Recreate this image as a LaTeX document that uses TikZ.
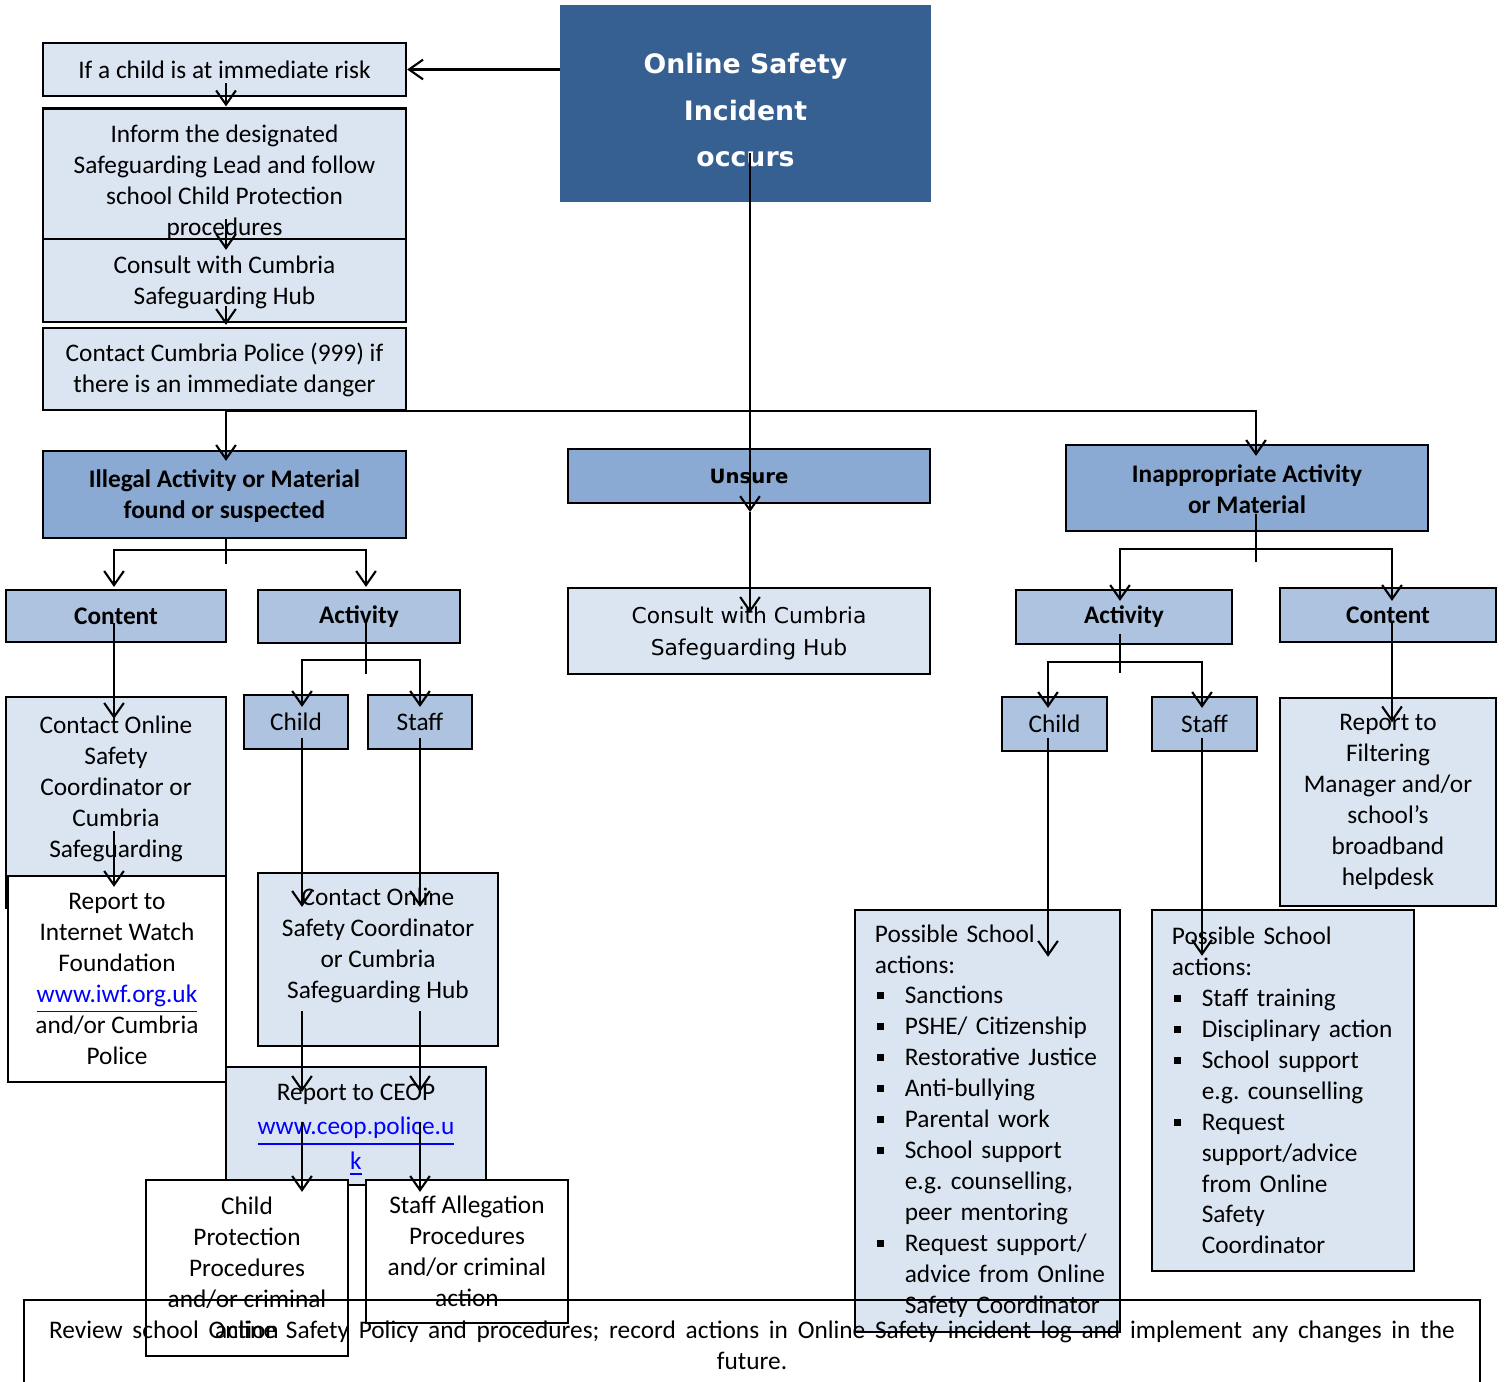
\documentclass[tikz,border=0pt]{standalone}
\usepackage{fontspec}
\setmainfont{Carlito}
\newfontfamily\vfont{DejaVu Sans}
\usepackage{xcolor}
\usepackage{tikz}
\usetikzlibrary{calc,arrows.meta}
\frenchspacing
\definecolor{incblue}{HTML}{376092}
\definecolor{midblue}{HTML}{8AAAD4}
\definecolor{palblue}{HTML}{AEC3E0}
\definecolor{litblue}{HTML}{DBE5F1}
\definecolor{linkblue}{HTML}{0000FF}
\newcommand{\lnk}[1]{\textcolor{linkblue}{\underline{#1}}}
\newcommand{\itm}[1]{\mbox{\makebox[8.5pt][l]{\hspace{0.6pt}\rule[1.3pt]{2pt}{2pt}}#1}}
\newcommand{\cnt}[1]{\mbox{\hspace*{8.5pt}#1}}
\tikzset{
  box/.style={draw=black, line width=0.6pt, inner sep=0pt, align=center, font=\fontsize{7.2}{8.8}\selectfont},
  lit/.style={box, fill=litblue},
  pale/.style={box, fill=palblue},
  mid/.style={box, fill=midblue, font=\fontsize{7.2}{8.8}\selectfont\bfseries},
  plain/.style={box, fill=white},
  inc/.style={box, fill=incblue, draw=incblue, text=white, font=\vfont\bfseries\fontsize{7.6}{13.1}\selectfont},
  vtxt/.style={font=\vfont\fontsize{6.2}{9.1}\selectfont},
  hd/.style={font=\fontsize{7.2}{8.8}\selectfont\bfseries},
  lst/.style={align=left, inner xsep=0.2cm},
  ln/.style={draw=black, line width=0.6pt},
  arr/.style={ln, -{Straight Barb[length=4pt,width=5.6pt]}},
}

\begin{document}
\begin{tikzpicture}[x=0.01cm,y=0.01cm]
  \useasboundingbox (0,0) rectangle (1505,-1382);

  \node[inc, minimum width=3.69cm, minimum height=1.95cm] (inc) at (745.5,-103.5) {\rule{0pt}{9.5pt}Online Safety\\Incident\\occurs};

  % immediate risk column
  \node[lit, minimum width=3.63cm, minimum height=0.53cm] (risk) at (224.5,-69.5) {If a child is at immediate risk};
  \node[lit, minimum width=3.63cm, minimum height=1.47cm] (dsl) at (224.5,-182) {Inform the designated\\Safeguarding Lead and follow\\school Child Protection\\procedures};
  \node[lit, minimum width=3.63cm, minimum height=0.83cm] (hubA) at (224.5,-280.5) {\rule{0pt}{6pt}Consult with Cumbria\\Safeguarding Hub};
  \node[lit, minimum width=3.63cm, minimum height=0.82cm] (police) at (224.5,-369) {\rule{0pt}{6pt}Contact Cumbria Police (999) if\\there is an immediate danger};

  % three branches
  \node[mid, minimum width=3.63cm, minimum height=0.87cm] (ill) at (224.5,-494.5) {\rule{0pt}{6pt}Illegal Activity or Material\\found or suspected};
  \node[mid, vtxt, font=\vfont\bfseries\fontsize{5.6}{9.1}\selectfont, minimum width=3.62cm, minimum height=0.54cm] (uns) at (749,-476) {Unsure};
  \node[lit, vtxt, minimum width=3.62cm, minimum height=0.86cm] (hubU) at (749,-631) {\rule{0pt}{6pt}Consult with Cumbria\\Safeguarding Hub};
  \node[mid, minimum width=3.62cm, minimum height=0.86cm] (inap) at (1247,-488) {\rule{0pt}{6pt}Inappropriate Activity\\or Material};

  % illegal side
  \node[pale, hd, minimum width=2.20cm, minimum height=0.52cm] (cntL) at (116,-616) {Content};
  \node[pale, hd, minimum width=2.02cm, minimum height=0.53cm] (actL) at (359,-616.5) {Activity};
  \node[lit, minimum width=2.20cm, minimum height=2.11cm] (osc) at (116,-802.5) {Contact Online\\Safety\\Coordinator or\\Cumbria\\Safeguarding\\\rule{0pt}{5pt}};
  \node[plain, minimum width=2.18cm, minimum height=2.06cm] (iwf) at (117,-979) {Report to\\Internet Watch\\Foundation\\\lnk{www.iwf.org.uk}\\and/or Cumbria\\Police};
  \node[pale, minimum width=1.04cm, minimum height=0.54cm] (chL) at (296,-722) {Child};
  \node[pale, minimum width=1.04cm, minimum height=0.54cm] (stL) at (420,-722) {Staff};
  \node[lit, minimum width=2.40cm, minimum height=1.73cm] (oscB) at (378,-959.5) {Contact Online\\Safety Coordinator\\or Cumbria\\Safeguarding Hub\\[-2pt]\strut};
  \node[lit, minimum width=2.60cm, minimum height=1.18cm] (ceop) at (356,-1126) {\rule{0pt}{7pt}Report to CEOP\\[1pt]\lnk{www.ceop.police.u}\\[1pt]\lnk{k}};
  \node[plain, minimum width=2.02cm, minimum height=1.76cm] (cpp) at (247,-1268) {Child\\Protection\\Procedures\\and/or criminal\\action};
  \node[plain, minimum width=2.02cm, minimum height=1.43cm] (sap) at (467,-1251.5) {Staff Allegation\\Procedures\\and/or criminal\\action};

  % inappropriate side
  \node[pale, hd, minimum width=2.16cm, minimum height=0.54cm] (actR) at (1124,-617) {Activity};
  \node[pale, hd, minimum width=2.16cm, minimum height=0.54cm] (cntR) at (1388,-615) {Content};
  \node[pale, minimum width=1.05cm, minimum height=0.54cm] (chR) at (1054.5,-724) {Child};
  \node[pale, minimum width=1.05cm, minimum height=0.54cm] (stR) at (1204.5,-724) {Staff};
  \node[lit, minimum width=2.16cm, minimum height=2.07cm] (filt) at (1388,-802) {Report to\\Filtering\\Manager and/or\\school’s\\broadband\\helpdesk};
  \node[lit, lst, text width=2.25cm, minimum height=4.22cm] (actsC) at (987.5,-1121) {Possible School\\actions:\\\itm{Sanctions}\\\itm{PSHE/ Citizenship}\\\itm{Restorative Justice}\\\itm{Anti-bullying}\\\itm{Parental work}\\\itm{School support}\\\cnt{e.g. counselling,}\\\cnt{peer mentoring}\\\itm{Request support/}\\\cnt{advice from Online}\\\cnt{Safety Coordinator}};
  \node[lit, lst, text width=2.22cm, minimum height=3.61cm] (actsS) at (1283,-1090.5) {Possible School\\actions:\\\itm{Staff training}\\\itm{Disciplinary action}\\\itm{School support}\\\cnt{e.g. counselling}\\\itm{Request}\\\cnt{support/advice}\\\cnt{from Online}\\\cnt{Safety}\\\cnt{Coordinator}};

  \node[box, minimum width=14.56cm, minimum height=0.90cm] (rev) at (752,-1345) {\makebox[14.05cm][s]{Review school Online Safety Policy and procedures; record actions in Online Safety incident log and implement any changes in the}\\future.};

  % connectors, top
  \draw[arr] (inc.west |- risk.east) -- (risk.east);
  \draw[arr] ($(risk.south)+(1.5,14)$) -- ($(dsl.north)+(1.5,1)$);
  \draw[arr] ($(hubA.north)+(1.5,19)$) -- ($(hubA.north)+(1.5,-12)$);
  \draw[arr] ($(hubA.south)+(1.5,17)$) -- ($(police.north)+(1.5,2)$);
  \draw[arr] ($(police.south)+(1.5,0)$) -- ($(ill.north)+(1.5,-11)$);
  \draw[arr] ($(police.south)+(1.5,0)$) -| ($(inap.north)+(9,-12)$);
  \draw[arr] ($(inc.south -| uns.north)+(1,49)$) -- ($(uns.south)+(1,-8)$);
  \draw[arr] ($(uns.south)+(1,-8)$) -- ($(hubU.north)+(1,-26)$);

  % illegal branch
  \coordinate (illFork) at ($(ill.south)+(1.5,-11)$);
  \draw[ln] ($(ill.south)+(1.5,0)$) -- ++(0,-25);
  \draw[arr] (illFork) -| ($(cntL.north)+(-2,2)$);
  \draw[arr] (illFork) -| ($(actL.north)+(7,2)$);
  \draw[arr] ($(cntL.south)+(-2,20)$) -- ($(osc.north)+(-2,-23)$);
  \draw[arr] ($(osc.south)+(-2,78)$) -- ($(iwf.north)+(-3,-12)$);
  \coordinate (actLFork) at ($(actL.south)+(7,-16)$);
  \draw[ln] ($(actL.south)+(7,21)$) -- ++(0,-51);
  \draw[arr] (actLFork) -| ($(chL.north)+(6,-13)$);
  \draw[arr] (actLFork) -| ($(stL.north)+(0,-13)$);
  \draw[arr] ($(chL.south)+(6,12)$) -- ($(oscB.north -| chL.south)+(6,-35)$);
  \draw[arr] ($(stL.south)+(0,12)$) -- ($(oscB.north -| stL.south)+(0,-35)$);
  \draw[arr] ($(oscB.south -| chL.south)+(6,36)$) -- ($(ceop.north -| chL.south)+(6,-26)$);
  \draw[arr] ($(oscB.south -| stL.south)+(0,36)$) -- ($(ceop.north -| stL.south)+(0,-26)$);
  \draw[arr] ($(ceop.north -| chL.south)+(6,-56)$) -- ($(cpp.north -| chL.south)+(6,-13)$);
  \draw[arr] ($(ceop.north -| stL.south)+(0,-56)$) -- ($(sap.north -| stL.south)+(0,-13)$);

  % inappropriate branch
  \coordinate (inapFork) at ($(inap.south)+(9,-17)$);
  \draw[ln] ($(inap.south)+(9,18)$) -- ++(0,-48);
  \draw[arr] (inapFork) -| ($(actR.north)+(-4,-12)$);
  \draw[arr] (inapFork) -| ($(cntR.north)+(4,-14)$);
  \coordinate (actRFork) at ($(actR.south)+(-4,-17)$);
  \draw[ln] ($(actR.south)+(-4,11)$) -- ++(0,-39);
  \draw[arr] (actRFork) -| ($(chR.north)+(-6.5,-12)$);
  \draw[arr] (actRFork) -| ($(stR.north)+(-2.5,-12)$);
  \draw[arr] ($(chR.south)+(-6.5,14)$) -- ($(actsC.north -| chR.south)+(-6.5,-48)$);
  \draw[arr] ($(stR.south)+(-2.5,14)$) -- ($(actsS.north -| stR.south)+(-2.5,-47)$);
  \draw[arr] ($(cntR.south)+(4,22)$) -- ($(filt.north)+(4,-25)$);
\end{tikzpicture}
\end{document}
